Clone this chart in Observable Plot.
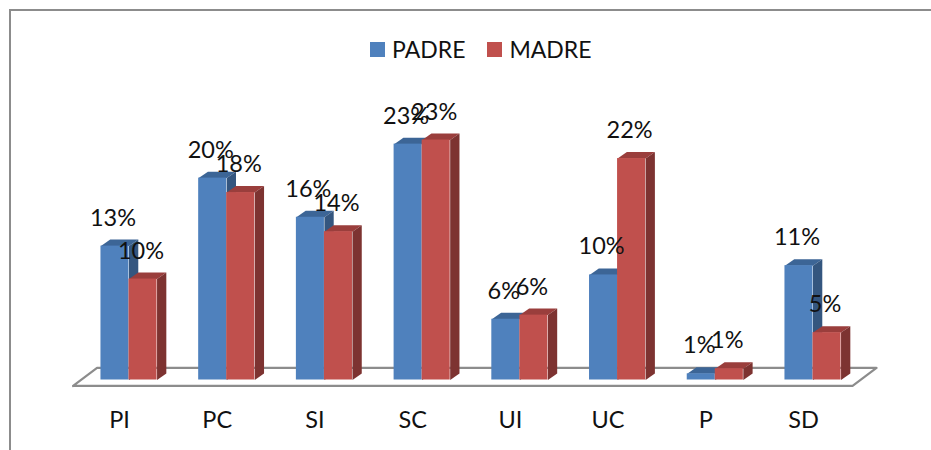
<!DOCTYPE html>
<html>
<head>
<meta charset="utf-8">
<script src="https://cdn.jsdelivr.net/npm/d3@7"></script>
<script src="https://cdn.jsdelivr.net/npm/@observablehq/plot@0.6"></script>
<style>
html,body{margin:0;padding:0;background:#fff;overflow:hidden}
#wrap{position:relative;width:931px;height:450px;font-family:Lato,sans-serif}
#border{position:absolute;left:9px;top:9px;right:0;bottom:0;border-left:2px solid #8c8c8c;border-top:2px solid #8c8c8c}
#legend{position:absolute;left:370px;top:36px;display:flex;align-items:center;font-size:23px;color:#111;line-height:26px}
#legend i{display:inline-block;width:15px;height:15px;margin-right:7px}
#legend span{display:flex;align-items:center;margin-right:22px}
svg{position:absolute;left:0;top:0;background:transparent !important}
</style>
</head>
<body>
<div id="wrap"><div id="border"></div><div id="legend"></div></div>
<script>
const categories = ["PI","PC","SI","SC","UI","UC","P","SD"];
const padre = [13.0,19.6,15.8,22.9,5.9,10.2,0.6,11.1];
const madre = [9.8,18.2,14.4,23.3,6.3,21.5,1.1,4.6];
const seriesNames = ["PADRE","MADRE"];
const frontColors = ["#4f81bd","#c0504d"];
const topColors = ["#3c6596","#9a3e3c"];
const sideColors = ["#34567f","#7d3331"];

const halfWidth = 0.287, depthX = 0.095, depthY = 0.63;
const idx = categories.map((_,i)=>i);
function bars(values, k){
  return values.map((v,i)=>({i,v,x1:k===0?i-halfWidth:i,x2:k===0?i:i+halfWidth,label:d3.format(".0f")(v)+"%",xc:k===0?i-halfWidth/2:i+halfWidth/2}));
}
function poly(pts,id){return pts.map(p=>({x:p[0],y:p[1],id}));}
function tops(b){return b.flatMap(d=>poly([[d.x1,d.v],[d.x1+depthX,d.v+depthY],[d.x2+depthX,d.v+depthY],[d.x2,d.v]],d.i));}
function sides(b){return b.flatMap(d=>poly([[d.x2,0],[d.x2+depthX,depthY],[d.x2+depthX,d.v+depthY],[d.x2,d.v]],d.i));}
const floorX = [-0.572,7.405,7.65,-0.327];
const floorY = [-0.58,-0.58,1.17,1.17];
const floor = floorX.map((x,i)=>({x,y:floorY[i]}));
floor.push(floor[0]);

const bP = bars(padre,0), bM = bars(madre,1);
function barMarks(b,k){
  return [
    Plot.line(tops(b),{x:"x",y:"y",z:"id",fill:topColors[k],stroke:"none"}),
    Plot.line(sides(b),{x:"x",y:"y",z:"id",fill:sideColors[k],stroke:"none"}),
    Plot.rect(b,{x1:"x1",x2:"x2",y1:0,y2:"v",fill:frontColors[k]})
  ];
}
function labelMarks(b){
  return Plot.text(b,{x:"xc",y:"v",text:"label",dx:-2,dy:-28,fontSize:23.5,fill:"#111",fontFamily:"Lato"});
}
const chart = Plot.plot({
  width:931,height:450,marginLeft:0,marginRight:0,marginTop:0,marginBottom:43,
  style:{fontFamily:"Lato",background:"transparent"},
  x:{type:"linear",domain:[0,7],range:[128.5,812.5]},
  y:{type:"linear",domain:[0,23],range:[379.5,142.6],axis:null},
  marks:[
    Plot.line(floor,{x:"x",y:"y",stroke:"#8c8c8c",strokeWidth:2.2,fill:"#fff"}),
    ...barMarks(bP,0),
    ...barMarks(bM,1),
    labelMarks(bP),
    labelMarks(bM),
    Plot.axisX({ticks:idx,tickFormat:i=>categories[i],tickSize:0,tickPadding:4,dx:-9.5,fontSize:23.5,label:null,fill:"#111"})
  ]
});
document.getElementById("wrap").appendChild(chart);
const legend = document.getElementById("legend");
seriesNames.forEach((n,k)=>{
  const s=document.createElement("span");
  const sw=document.createElement("i");sw.style.background=frontColors[k];
  s.appendChild(sw);s.appendChild(document.createTextNode(n));
  legend.appendChild(s);
});
</script>
</body>
</html>
